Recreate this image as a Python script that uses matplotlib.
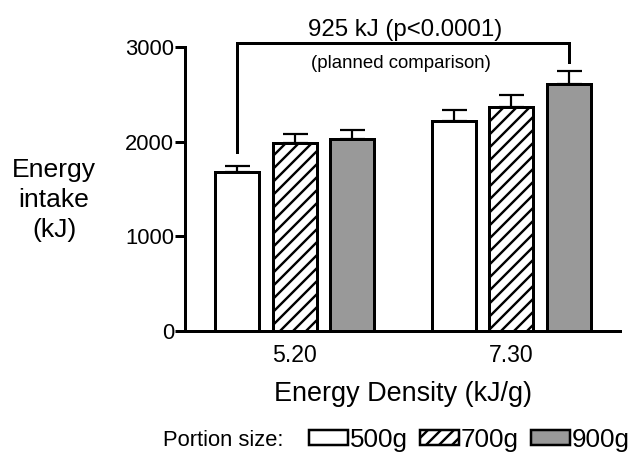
import numpy as np
import matplotlib
matplotlib.use('Agg')
import matplotlib.pyplot as plt
from matplotlib.patches import Patch

densities = ['5.20', '7.30']
portions = ['500g', '700g', '900g']
intake_500 = [1680, 2215]
intake_700 = [1988, 2365]
intake_900 = [2030, 2610]
sem_500 = [62, 118]
sem_700 = [90, 127]
sem_900 = [97, 135]

DPI = 78
plt.rcParams['font.family'] = ['Liberation Sans', 'DejaVu Sans']
plt.rcParams['hatch.linewidth'] = 2.2
plt.rcParams['hatch.color'] = 'black'


def pt(px):
    # pixel size -> points at this dpi
    return px * 72.0 / DPI


fig = plt.figure(figsize=(638 / DPI, 454 / DPI), dpi=DPI)
ax = fig.add_axes([185 / 638, 1 - 331 / 454, 435 / 638, 284 / 454])

x = np.arange(len(densities))
step = 0.2656
width = 0.203
series = [(intake_500, sem_500, 'white', ''),
          (intake_700, sem_700, 'white', '//'),
          (intake_900, sem_900, '#999999', '')]

for i, (vals, err, fc, hatch) in enumerate(series):
    pos = x + (i - 1) * step
    ax.bar(pos, vals, width, facecolor=fc, edgecolor='black',
           linewidth=pt(3), hatch=hatch, zorder=2)
    ax.errorbar(pos, vals, yerr=[np.zeros(len(err)), err], fmt='none',
                ecolor='black', elinewidth=pt(2.2), capsize=pt(12.5),
                capthick=pt(2.2), zorder=3)

# bracket for the planned comparison
bx0 = x[0] - step
bx1 = x[1] + step
ax.plot([bx0, bx0, bx1, bx1], [1892, 3045, 3045, 2845], color='black',
        lw=pt(3), clip_on=False, solid_joinstyle='miter', zorder=4)
ax.text(0.51, 3180, '925 kJ (p<0.0001)', ha='center', va='center',
        fontsize=pt(24))
ax.text(0.49, 2830, '(planned comparison)', ha='center', va='center',
        fontsize=pt(18.6))

ax.set_xlim(-0.506, 1.503)
ax.set_ylim(0, 3000)
ax.set_yticks([0, 1000, 2000, 3000])
ax.set_xticks(x)
ax.set_xticklabels(densities)
ax.spines['top'].set_visible(False)
ax.spines['right'].set_visible(False)
ax.spines['left'].set_linewidth(pt(3))
ax.spines['bottom'].set_linewidth(pt(3))
ax.tick_params(axis='y', length=pt(10), width=pt(3), pad=pt(1),
               labelsize=pt(22))
ax.tick_params(axis='x', length=0, pad=pt(13), labelsize=pt(23))

ax.set_xlabel('Energy Density (kJ/g)', fontsize=pt(27), labelpad=pt(14))
fig.text(54 / 638, 1 - 200 / 454, 'Energy\nintake\n(kJ)', ha='center',
         va='center', multialignment='center', fontsize=pt(26.5),
         linespacing=1.32)

fig.text(163 / 638, 1 - 440 / 454, 'Portion size:', ha='left', va='center',
         fontsize=pt(22))
handles = [Patch(facecolor=c, edgecolor='black', hatch=h, linewidth=pt(2.5))
           for (_, _, c, h) in series]
fig.legend(handles, portions, loc='center left',
           bbox_to_anchor=(309 / 638, 1 - 440 / 454), ncol=3, frameon=False,
           fontsize=pt(26), handlelength=1.5, handleheight=0.5,
           handletextpad=0.08, columnspacing=0.45, borderpad=0,
           borderaxespad=0)

fig.savefig('out.png', dpi=DPI)
